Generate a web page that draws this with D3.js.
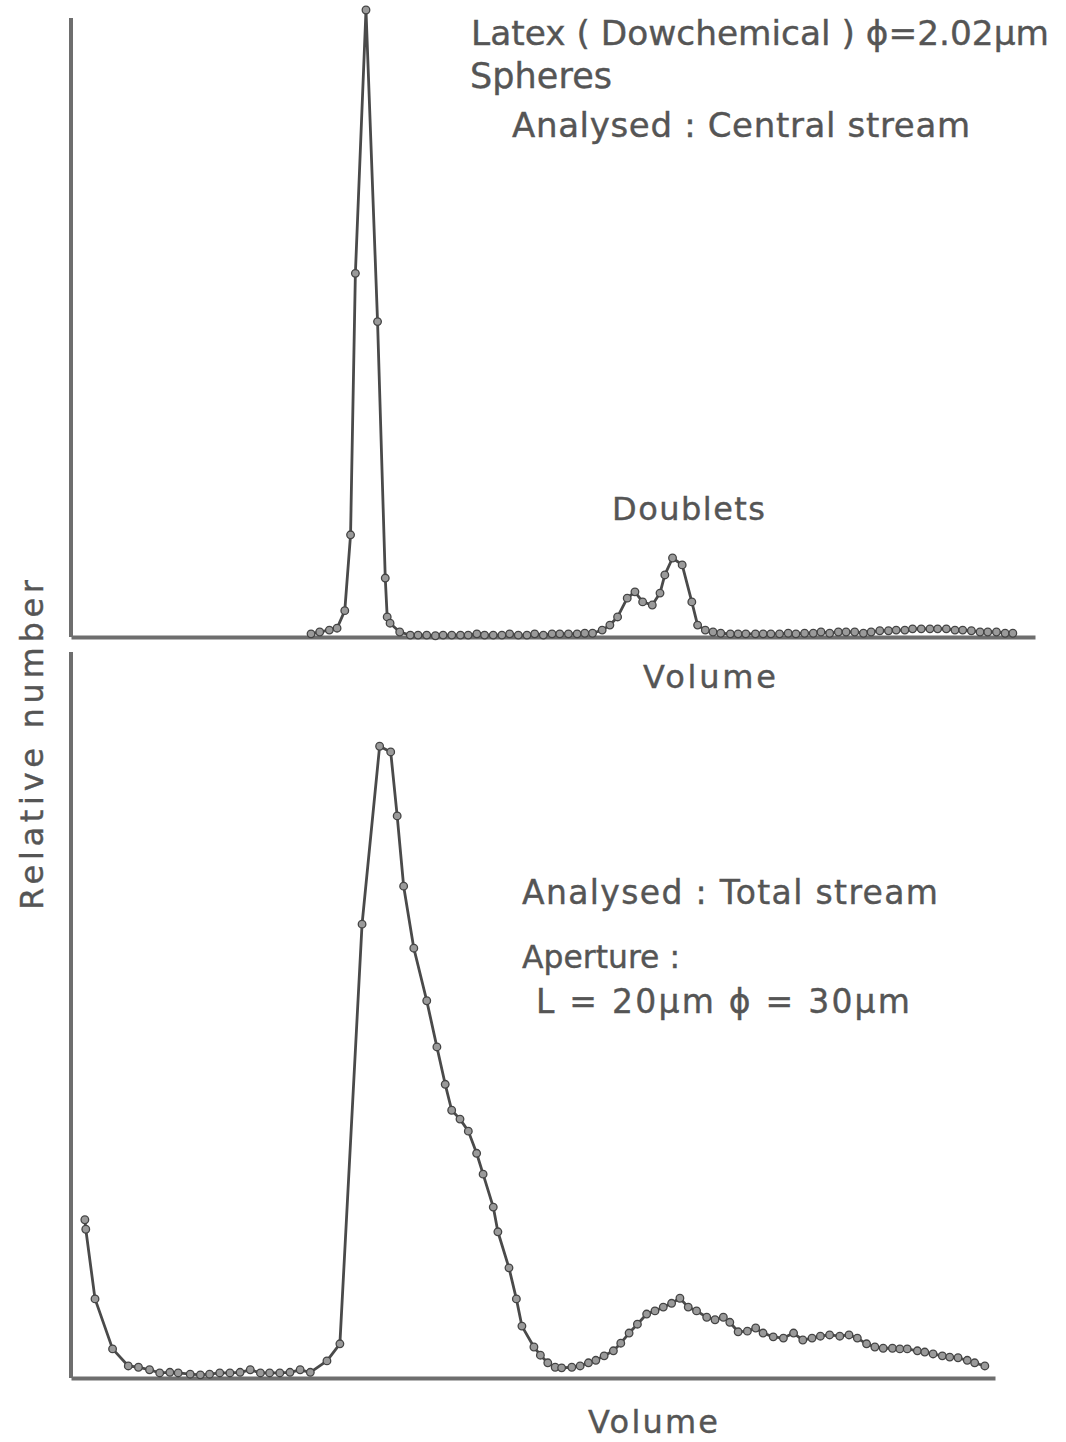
<!DOCTYPE html>
<html>
<head>
<meta charset="utf-8">
<script src="https://cdn.jsdelivr.net/npm/d3@7"></script>
<style>
  html, body { margin: 0; padding: 0; background: #fff; }
  svg { display: block; }
  text { font-family: "DejaVu Sans", sans-serif; fill: #555; stroke: #555; stroke-width: 0.4; }
</style>
</head>
<body>
<svg id="chart" width="1066" height="1442"></svg>
<script>
// ---- Data: top panel (Analysed: Central stream), volume in arbitrary units 0-100, relative number 0-100
const topVolume = [24.9,25.8,26.8,27.6,28.4,29.0,29.5,30.6,31.8,32.6,32.8,33.1,34.1,35.2,
  36.0,36.9,37.8,38.6,39.5,40.4,41.2,42.1,42.9,43.8,44.7,45.5,46.4,47.3,48.1,49.0,49.9,50.7,51.6,52.5,53.3,54.1,
  55.1,55.9,56.7,57.7,58.5,59.3,60.3,61.1,61.6,62.4,63.4,64.4,65.0,65.8,66.6,
  67.4,68.4,69.2,70.0,71.0,71.8,72.6,73.5,74.4,75.2,76.1,77.0,77.8,78.7,79.6,80.4,81.3,82.2,83.0,83.9,84.8,
  85.6,86.5,87.3,88.2,89.1,89.9,90.8,91.7,92.5,93.4,94.3,95.1,96.0,96.9,97.7];
const topCount = [0.5,0.8,1.1,1.4,4.2,16.3,58.0,100,50.3,9.4,3.2,2.2,0.8,0.3,
  0.3,0.3,0.2,0.3,0.3,0.3,0.3,0.5,0.3,0.3,0.3,0.5,0.3,0.3,0.5,0.3,0.5,0.5,0.5,0.5,0.6,0.6,
  1.1,1.9,3.2,6.2,7.2,5.6,5.1,7.0,9.9,12.6,11.5,5.6,1.9,1.1,0.8,
  0.6,0.5,0.5,0.5,0.5,0.5,0.5,0.5,0.6,0.5,0.6,0.6,0.8,0.6,0.8,0.8,0.8,0.6,0.8,1.0,1.0,
  1.1,1.1,1.3,1.3,1.3,1.3,1.3,1.1,1.1,1.0,0.8,0.8,0.8,0.6,0.6];

// ---- Data: bottom panel (Analysed: Total stream)
const botVolume = [1.5,1.6,2.6,4.5,6.2,7.3,8.5,9.6,10.7,11.6,12.9,14.0,15.0,16.1,17.2,18.3,19.4,20.5,21.5,22.6,23.7,24.8,25.9,
  27.7,29.1,31.5,33.4,34.6,35.3,36.0,37.1,38.5,39.6,40.5,41.2,42.1,43.0,43.9,44.6,45.7,46.2,47.4,48.2,48.8,
  50.1,50.8,51.6,52.4,53.1,54.2,55.1,56.0,56.8,57.7,58.7,59.5,60.4,61.3,62.3,63.2,64.1,65.0,65.9,
  66.8,67.7,68.8,69.7,70.6,71.3,72.2,73.2,74.1,74.9,76.0,77.1,78.2,79.2,80.2,81.1,82.1,83.2,84.2,85.1,
  86.1,87.0,87.9,88.9,89.7,90.5,91.6,92.4,93.3,94.3,95.1,96.0,97.0,97.8,98.9];
const botCount = [25.0,23.5,12.5,4.6,1.9,1.7,1.3,0.8,0.9,0.8,0.6,0.5,0.6,0.8,0.8,0.9,1.3,0.8,0.8,0.8,0.9,1.3,0.9,
  2.7,5.4,71.7,99.8,98.9,88.8,77.7,67.9,59.6,52.3,46.4,42.3,40.9,39.0,35.5,32.2,27.0,23.1,17.4,12.5,8.2,
  4.9,3.6,2.4,1.7,1.6,1.7,1.9,2.4,2.8,3.5,4.3,5.5,7.1,8.5,10.1,10.6,11.2,11.8,12.6,
  11.2,10.6,9.6,9.2,9.6,8.8,7.3,7.4,7.9,7.1,6.5,6.3,7.1,6.0,6.3,6.6,6.8,6.6,6.8,6.3,
  5.4,4.9,4.7,4.7,4.6,4.6,4.3,4.1,3.8,3.5,3.3,3.2,2.8,2.4,1.9];

// ---- Text labels
const topNotes = ["Latex ( Dowchemical ) ϕ=2.02μm", "Spheres", "Analysed : Central stream"];
const doubletLabel = "Doublets";
const botNotes = ["Analysed : Total stream", "Aperture :", "L = 20μm  ϕ = 30μm"];
const xLabel = "Volume";
const yLabel = "Relative number";

const svg = d3.select("#chart");

// scales
const xTop = d3.scaleLinear().domain([0, 100]).range([71, 1035]);
const yTop = d3.scaleLinear().domain([0, 100]).range([637, 10]);
const xBot = d3.scaleLinear().domain([0, 100]).range([71, 995]);
const yBot = d3.scaleLinear().domain([0, 100]).range([1378, 745]);

const axisColor = "#6e6e6e";

function drawPanel(xs, ys, vols, counts, yTopPx) {
  const g = svg.append("g");
  // axes: thick plain lines, no ticks
  const xAxis = d3.axisBottom(xs).tickValues([]).tickSizeOuter(0);
  const yAxis = d3.axisLeft(ys).tickValues([]).tickSizeOuter(0);
  const gx = g.append("g").attr("transform", `translate(0,${ys(0)})`).call(xAxis);
  const gy = g.append("g").attr("transform", `translate(${xs(0)},0)`).call(yAxis);
  gy.select(".domain").attr("d", `M0,${yTopPx}V${ys(0)}`);
  [gx, gy].forEach(a => a.select(".domain").attr("stroke", axisColor).attr("stroke-width", 4));

  const pts = vols.map((v, i) => [v, counts[i]]);
  const line = d3.line().x(d => xs(d[0])).y(d => ys(d[1]));
  g.append("path").datum(pts).attr("d", line)
    .attr("fill", "none").attr("stroke", "#4a4a4a").attr("stroke-width", 2.8)
    .attr("stroke-linejoin", "round");
  g.selectAll("circle").data(pts).join("circle")
    .attr("cx", d => xs(d[0])).attr("cy", d => ys(d[1])).attr("r", 3.8)
    .attr("fill", "#9a9a9a").attr("stroke", "#444").attr("stroke-width", 1.3);
}

drawPanel(xTop, yTop, topVolume, topCount, 18);
drawPanel(xBot, yBot, botVolume, botCount, 652);

// Text: font size shrinks if the natural width exceeds the target width; spacing fills the rest
function label(t, x, y, len, size, rot) {
  const el = svg.append("text").text(t)
    .attr("x", x).attr("y", y)
    .attr("font-size", size);
  const natural = el.node().getComputedTextLength();
  if (natural > len) {
    el.attr("font-size", size * len / natural);
  }
  el.attr("textLength", len).attr("lengthAdjust", "spacing");
  if (rot) el.attr("transform", `rotate(-90 ${x} ${y})`);
  return el;
}

label(topNotes[0], 471, 45, 578, 36);
label(topNotes[1], 470, 88, 142, 35);
label(topNotes[2], 512, 137, 458, 34);
label(doubletLabel, 612, 520, 153, 32);
label(xLabel, 643, 688, 133, 32);

label(botNotes[0], 522, 904, 416, 33);
label(botNotes[1], 522, 968, 158, 33);
label(botNotes[2], 536, 1013, 374, 33);
label(xLabel, 588, 1433, 130, 32);

label(yLabel, 43, 910, 330, 32, true);
</script>
</body>
</html>
